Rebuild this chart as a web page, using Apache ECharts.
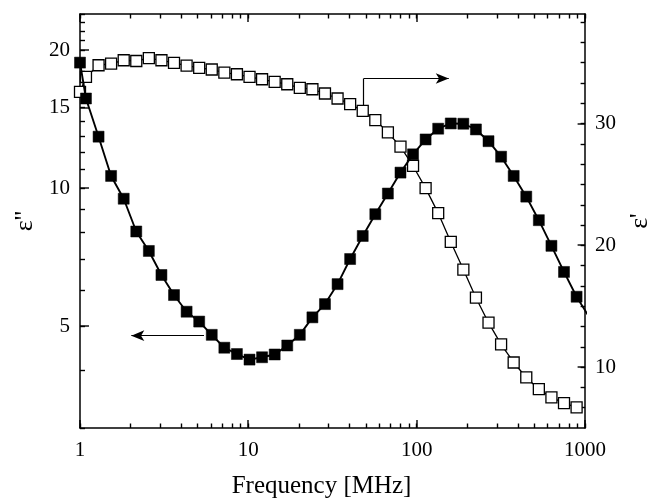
<!DOCTYPE html>
<html><head><meta charset="utf-8">
<script src="https://cdn.jsdelivr.net/npm/echarts@6/dist/echarts.min.js"></script>
<style>html,body{margin:0;padding:0;background:#fff}#c{width:661px;height:504px}</style>
</head><body><div id="c"></div>
<script>
// Frequency in MHz (last entry lies just past the axis end; it is clipped)
const freq = [1, 1.085, 1.289, 1.530, 1.818, 2.159, 2.564, 3.046, 3.617, 4.297, 5.104,
  6.061, 7.200, 8.551, 10.16, 12.06, 14.33, 17.02, 20.21, 24.01, 28.51,
  33.87, 40.22, 47.78, 56.75, 67.40, 80.07, 95.08, 112.9, 134.1, 159.3,
  189.2, 224.7, 266.9, 317.0, 376.5, 447.3, 531.2, 631.0, 749.4, 890.2, 1057];
// epsilon'' (left, log axis) - filled squares
const epsLoss = [18.8, 15.7, 12.96, 10.64, 9.49, 8.05, 7.30, 6.47, 5.85, 5.38, 5.12,
  4.79, 4.49, 4.35, 4.23, 4.28, 4.34, 4.54, 4.79, 5.23, 5.59,
  6.18, 7.01, 7.87, 8.78, 9.74, 10.82, 11.86, 12.78, 13.49, 13.85,
  13.83, 13.44, 12.67, 11.72, 10.64, 9.59, 8.52, 7.49, 6.57, 5.80, 5.24];
// epsilon' (right, linear axis) - open squares
const epsReal = [32.60, 33.83, 34.79, 34.93, 35.20, 35.14, 35.38, 35.20, 34.98, 34.76, 34.57,
  34.44, 34.19, 34.05, 33.83, 33.64, 33.42, 33.23, 32.93, 32.82, 32.47,
  32.06, 31.60, 31.05, 30.29, 29.28, 28.10, 26.52, 24.70, 22.65, 20.28,
  18.01, 15.70, 13.65, 11.87, 10.38, 9.15, 8.19, 7.51, 7.05, 6.69];

const xLabels = [1, 10, 100, 1000];
const xMinorTicks = [2,3,4,5,6,7,8,9,20,30,40,50,60,70,80,90,200,300,400,500,600,700,800,900];
const leftLabels = [5, 10, 15, 20];
const leftMinorTicks = [3,4,6,7,8,9,11,12,13,14,16,17,18,19,21,22,23,24];
const rightLabels = [10, 20, 30];
const rightMinorTicks = [6.667, 8.333, 11.667, 13.333, 15, 16.667, 18.333,
  21.667, 23.333, 25, 26.667, 28.333, 31.667, 33.333, 35, 36.667, 38.333];

// arrows (data space)
const lossArrow = {from: [5.45, 4.77], to: [2.017, 4.77]};
const realArrow = {start: [48.4, 31.51], corner: [48.4, 33.70], to: [155, 33.70]};

const FONT = 'Liberation Serif';
const black = '#000';
const lineAx = {show: true, lineStyle: {color: black, width: 1.5}};
const noLabel = {show: false};
const tickStyle = {color: black, width: 1.4};

function xAx(pos) {
  const bottom = pos === 'bottom';
  return {
    type: 'log', logBase: 10, min: 1, max: 1000, position: pos,
    axisLine: lineAx,
    axisTick: {show: true, inside: true, length: 4.5, customValues: xLabels.concat(xMinorTicks), lineStyle: tickStyle},
    axisLabel: bottom ? {
      show: true, customValues: xLabels, color: black, fontFamily: FONT, fontSize: 21, margin: 12,
      formatter: v => String(Math.round(v))
    } : noLabel,
    splitLine: {show: false}, minorTick: {show: false},
    name: bottom ? 'Frequency [MHz]' : '',
    nameLocation: 'middle', nameGap: 46,
    nameTextStyle: {color: black, fontFamily: FONT, fontSize: 25, padding: [0, 22, 0, 0]}
  };
}

// longer major tick marks, placed through the axes' own scales
function majorTicks(values, kind, len, yIdx) {
  return {
    type: 'custom', xAxisIndex: 0, yAxisIndex: yIdx, z: 6, silent: true,
    data: values.map(v => kind === 'x' ? [v, 10] : [10, v]),
    renderItem(params, api) {
      const cs = params.coordSys;
      if (kind === 'x') {
        const x = Math.round(api.coord([api.value(0), 10])[0]);
        const yb = cs.y + cs.height, yt = cs.y;
        return {type: 'group', children: [
          {type: 'line', shape: {x1: x, y1: yb, x2: x, y2: yb - len}, style: {stroke: '#000', lineWidth: 1.4}},
          {type: 'line', shape: {x1: x, y1: yt, x2: x, y2: yt + len}, style: {stroke: '#000', lineWidth: 1.4}}
        ]};
      }
      const y = Math.round(api.coord([10, api.value(1)])[1]);
      const x0 = kind === 'left' ? cs.x : cs.x + cs.width;
      const x1 = kind === 'left' ? cs.x + len : cs.x + cs.width - len;
      return {type: 'line', shape: {x1: x0, y1: y, x2: x1, y2: y}, style: {stroke: '#000', lineWidth: 1.4}};
    }
  };
}

const opt = {
  animation: false,
  backgroundColor: '#fff',
  grid: {left: 80, right: 72, top: 14, bottom: 75, containLabel: false},
  xAxis: [xAx('bottom'), xAx('top')],
  yAxis: [
    {type: 'log', logBase: 10, min: 3, max: 24, position: 'left',
     axisLine: lineAx,
     axisTick: {show: true, inside: true, length: 5, customValues: leftLabels.concat(leftMinorTicks), lineStyle: tickStyle},
     axisLabel: {show: true, customValues: leftLabels, color: black, fontFamily: FONT, fontSize: 21, margin: 10,
                 formatter: v => String(Math.round(v))},
     splitLine: {show: false},
     name: "ε''", nameLocation: 'middle', nameRotate: 90, nameGap: 40,
     nameTextStyle: {color: black, fontFamily: FONT, fontSize: 26}},
    {type: 'value', min: 5, max: 39, position: 'right',
     axisLine: lineAx,
     axisTick: {show: true, inside: true, length: 4.5, customValues: rightLabels.concat(rightMinorTicks), lineStyle: tickStyle},
     axisLabel: {show: true, customValues: rightLabels, color: black, fontFamily: FONT, fontSize: 21, margin: 10},
     splitLine: {show: false},
     name: "ε'", nameLocation: 'middle', nameRotate: 90, nameGap: 38,
     nameTextStyle: {color: black, fontFamily: FONT, fontSize: 26}}
  ],
  series: [
    majorTicks(xLabels, 'x', 8, 0),
    majorTicks(leftLabels, 'left', 9, 0),
    majorTicks(rightLabels, 'right', 7.5, 1),
    {
      name: "ε'", type: 'line', xAxisIndex: 0, yAxisIndex: 1,
      data: epsReal.map((v, i) => [freq[i], v]),
      symbol: 'rect', symbolSize: 11,
      itemStyle: {color: '#fff', borderColor: black, borderWidth: 1.3},
      lineStyle: {color: black, width: 1.3},
      clip: true, z: 2,
      markLine: {
        silent: true, animation: false, label: {show: false},
        lineStyle: {color: black, width: 1.2, type: 'solid'},
        symbolSize: [8, 13],
        data: [
          [{coord: realArrow.start, symbol: 'none'}, {coord: realArrow.corner, symbol: 'none'}],
          [{coord: realArrow.corner, symbol: 'none'}, {coord: realArrow.to, symbol: 'arrow'}]
        ]
      }
    },
    {
      name: "ε''", type: 'line', xAxisIndex: 0, yAxisIndex: 0,
      data: epsLoss.map((v, i) => [freq[i], v]),
      symbol: 'rect', symbolSize: 11,
      itemStyle: {color: black, borderColor: black, borderWidth: 0.5},
      lineStyle: {color: black, width: 1.9},
      clip: true, z: 3,
      markLine: {
        silent: true, animation: false, label: {show: false},
        lineStyle: {color: black, width: 1.2, type: 'solid'},
        symbolSize: [8, 13],
        data: [
          [{coord: lossArrow.from, symbol: 'none'}, {coord: lossArrow.to, symbol: 'arrow'}]
        ]
      }
    }
  ]
};
const chart = echarts.init(document.getElementById('c'), null, {renderer: 'canvas'});
chart.setOption(opt);
</script></body></html>
